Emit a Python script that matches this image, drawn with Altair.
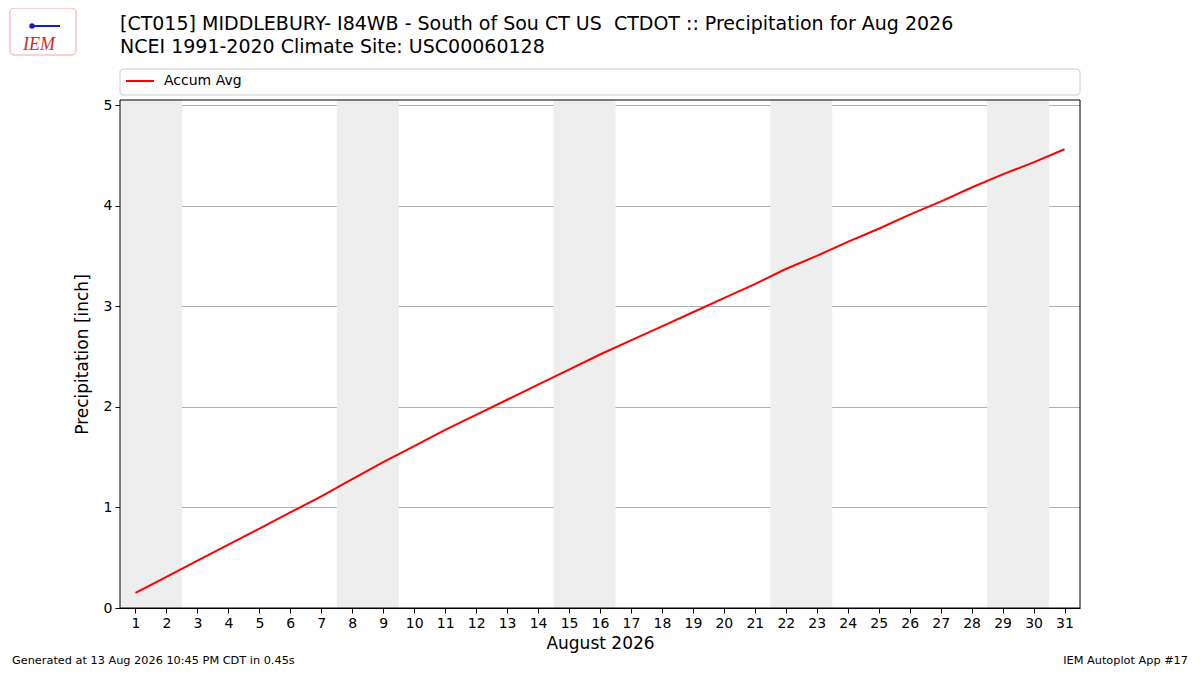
import altair as alt
import pandas as pd

# DATA ------------------------------------------------------------
days = list(range(1, 32))
accum_avg = [0.15, 0.31, 0.47, 0.63, 0.79, 0.95, 1.11, 1.28, 1.45, 1.61,
             1.77, 1.92, 2.07, 2.22, 2.37, 2.52, 2.66, 2.80, 2.94, 3.08,
             3.22, 3.37, 3.50, 3.64, 3.77, 3.91, 4.04, 4.18, 4.31, 4.43, 4.56]
# weekends of Aug 2026 (Sat/Sun), as day-ranges
weekend_start = [0.5, 7.5, 14.5, 21.5, 28.5]
weekend_end = [2.5, 9.5, 16.5, 23.5, 30.5]

# the double space is kept with a no-break space (svg collapses plain runs)
title_1 = "[CT015] MIDDLEBURY- I84WB - South of Sou CT US \u00a0CTDOT :: Precipitation for Aug 2026"
title_2 = "NCEI 1991-2020 Climate Site: USC00060128"
footer_left = "Generated at 13 Aug 2026 10:45 PM CDT in 0.45s"
footer_right = "IEM Autoplot App #17"

FONT = "DejaVu Sans"
W, H = 960, 508

df = pd.DataFrame({"day": days, "precip": accum_avg})
df_wk = pd.DataFrame({"start": weekend_start, "end": weekend_end})
one = pd.DataFrame({"k": [0]})

x_scale = alt.Scale(domain=[0.5, 31.5], nice=False, zero=False)

axis_style = dict(labelFontSize=14, titleFontSize=17, labelPadding=3, tickSize=5,
                  tickColor="black", domainColor="black", labelColor="black",
                  titleColor="black", labelFont=FONT, titleFont=FONT,
                  titleFontWeight="normal", labelOverlap=False, labelFlush=False)
x_axis = alt.Axis(values=days, format="d", grid=False, titlePadding=5, **axis_style)

# PLOTTING ---------------------------------------------------------
bands = alt.Chart(df_wk).mark_rect(color="#eeeeee").encode(
    x=alt.X("start:Q", scale=x_scale, title="August 2026", axis=x_axis),
    x2="end:Q",
    y=alt.value(0),
    y2=alt.value(H),
)

line = alt.Chart(df).mark_line(color="red", strokeWidth=2).encode(
    x=alt.X("day:Q", scale=x_scale, title="August 2026", axis=x_axis),
    y=alt.Y("precip:Q", title="Precipitation [inch]",
            scale=alt.Scale(domain=[0, 5.05], nice=False),
            axis=alt.Axis(values=[0, 1, 2, 3, 4, 5], grid=True, gridColor="#b0b0b0",
                          gridWidth=1, titlePadding=12, **axis_style)),
)


def label(text, x, y, size, align="left", baseline="alphabetic", **kw):
    return alt.Chart(one).mark_text(
        text=text, align=align, baseline=baseline, fontSize=size,
        font=kw.pop("font", FONT), color=kw.pop("color", "black"), **kw
    ).encode(x=alt.value(x), y=alt.value(y))


# plot frame drawn on top, like matplotlib's spines
frame = alt.Chart(one).mark_rect(filled=False, stroke="black", strokeWidth=1).encode(
    x=alt.value(0), x2=alt.value(W), y=alt.value(0), y2=alt.value(H)
)

legend_box = alt.Chart(one).mark_rect(
    fill="white", stroke="#cccccc", strokeWidth=1, cornerRadius=3
).encode(x=alt.value(0), x2=alt.value(W), y=alt.value(-31), y2=alt.value(-5))
legend_line = alt.Chart(one).mark_rule(color="red", strokeWidth=2).encode(
    x=alt.value(6), x2=alt.value(34), y=alt.value(-19)
)

# rough IEM logo: state outline, station glyph, red lettering
logo_box = alt.Chart(one).mark_rect(
    filled=False, stroke="#f2a5a5", strokeWidth=1, cornerRadius=4
).encode(x=alt.value(-110), x2=alt.value(-44), y=alt.value(-92), y2=alt.value(-45))
logo_bar = alt.Chart(one).mark_rule(color="#1a1acc", strokeWidth=2).encode(
    x=alt.value(-90), x2=alt.value(-60), y=alt.value(-74)
)
logo_dot = alt.Chart(one).mark_circle(color="#1a1acc", opacity=1, size=30).encode(
    x=alt.value(-88), y=alt.value(-74)
)

texts = (
    label(title_1, 0, -70, 19)
    + label(title_2, 0, -47, 19)
    + label("Accum Avg", 44, -19, 14, baseline="middle")
    + label(footer_left, -108, 564, 11.3)
    + label(footer_right, 1068, 564, 11.3, align="right")
    + label("IEM", -97, -50, 18, font="Liberation Serif", fontStyle="italic",
            color="#d62828")
)

chart = alt.layer(bands, line, frame, legend_box, legend_line,
                  logo_box, logo_bar, logo_dot, texts).properties(
    width=W, height=H,
    background="white",
    autosize=alt.AutoSizeParams(type="none"),
    padding={"left": 112, "top": 92, "right": 112, "bottom": 59},
).configure_view(
    stroke=None
)

chart.save("out.html", embed_options={"renderer": "svg", "actions": False})
